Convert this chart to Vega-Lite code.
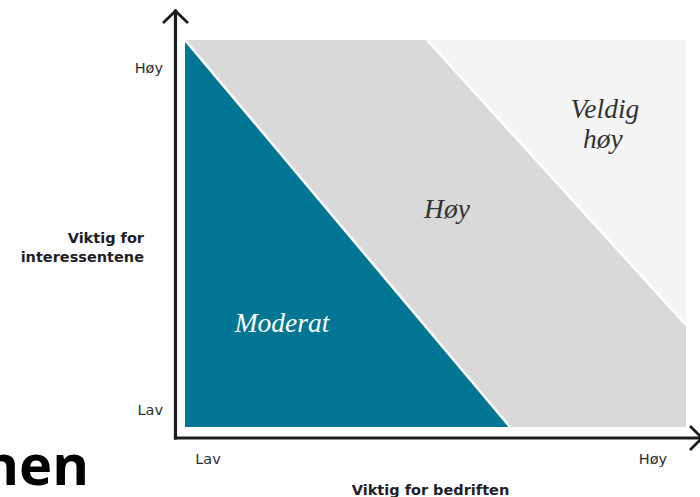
{
  "$schema": "https://vega.github.io/schema/vega-lite/v6.json",
  "autosize": {"type": "none"},
  "padding": {"left": 185, "top": 40, "right": 14, "bottom": 70},
  "width": 501,
  "height": 387,
  "background": "white",
  "config": {"view": {"stroke": null}},
  "encoding": {
    "x": {"field": "x", "type": "quantitative", "scale": {"domain": [0, 100], "nice": false, "zero": false}, "axis": null},
    "y": {"field": "y", "type": "quantitative", "scale": {"domain": [0, 100], "nice": false, "zero": false}, "axis": null}
  },
  "layer": [
    {
      "data": {"values": [{"x": 0, "x2": 100, "y": 0, "y2": 100}]},
      "mark": {"type": "rect", "color": "#d9d9d9"},
      "encoding": {"x2": {"field": "x2"}, "y2": {"field": "y2"}}
    },
    {
      "data": {"values": [{"x": 48.3, "y": 100, "y2": 100}, {"x": 100, "y": 100, "y2": 26.36}]},
      "mark": {"type": "area", "color": "#f4f4f4"},
      "encoding": {"y2": {"field": "y2"}}
    },
    {
      "data": {"values": [{"x": 0, "y": 100, "y2": 0}, {"x": 64.87, "y": 0, "y2": 0}]},
      "mark": {"type": "area", "color": "#007594"},
      "encoding": {"y2": {"field": "y2"}}
    },
    {
      "data": {"values": [{"x": 0, "y": 100, "x2": 64.87, "y2": 0}, {"x": 48.3, "y": 100, "x2": 100, "y2": 26.36}]},
      "mark": {"type": "rule", "color": "white", "strokeWidth": 2.5},
      "encoding": {"x2": {"field": "x2"}, "y2": {"field": "y2"}}
    },
    {
      "data": {"values": [{"x": -1.9, "y": -2.84, "x2": -1.9, "y2": 107.49}, {"x": -1.9, "y": -2.84, "x2": 103.5, "y2": -2.84}]},
      "mark": {"type": "rule", "color": "#1c1c1c", "strokeWidth": 3.2, "strokeCap": "square"},
      "encoding": {"x2": {"field": "x2"}, "y2": {"field": "y2"}}
    },
    {
      "data": {"values": [
        {"arrow": "y", "step": 1, "x": -4.39, "y": 104.39},
        {"arrow": "y", "step": 2, "x": -1.9, "y": 107.49},
        {"arrow": "y", "step": 3, "x": 0.6, "y": 104.39},
        {"arrow": "x", "step": 1, "x": 100.8, "y": 0.26},
        {"arrow": "x", "step": 2, "x": 103.19, "y": -2.84},
        {"arrow": "x", "step": 3, "x": 100.8, "y": -5.94}
      ]},
      "mark": {"type": "line", "color": "#1c1c1c", "strokeWidth": 2.8, "strokeJoin": "miter"},
      "encoding": {"detail": {"field": "arrow"}, "order": {"field": "step"}}
    },
    {
      "data": {"values": [
        {"label": "Høy", "x": -4.39, "y": 91.47},
        {"label": "Lav", "x": -4.39, "y": 3.1}
      ]},
      "mark": {"type": "text", "align": "right", "baseline": "alphabetic", "font": "DejaVu Sans", "fontSize": 14.5, "color": "#2e2e3a"},
      "encoding": {"text": {"field": "label"}}
    },
    {
      "data": {"values": [
        {"label": "Lav", "x": 4.59, "y": -9.5},
        {"label": "Høy", "x": 93.41, "y": -9.5}
      ]},
      "mark": {"type": "text", "align": "center", "baseline": "alphabetic", "font": "DejaVu Sans", "fontSize": 14.5, "color": "#2e2e3a"},
      "encoding": {"text": {"field": "label"}}
    },
    {
      "data": {"values": [
        {"label": "Viktig for", "x": -8.18, "y": 47.55},
        {"label": "interessentene", "x": -8.18, "y": 42.64}
      ]},
      "mark": {"type": "text", "align": "right", "baseline": "alphabetic", "font": "DejaVu Sans", "fontWeight": "bold", "fontSize": 14.5, "color": "#1e1e28"},
      "encoding": {"text": {"field": "label"}}
    },
    {
      "data": {"values": [
        {"label": "Viktig for bedriften", "x": 49.0, "y": -17.57}
      ]},
      "mark": {"type": "text", "align": "center", "baseline": "alphabetic", "font": "DejaVu Sans", "fontWeight": "bold", "fontSize": 14.5, "color": "#1e1e28"},
      "encoding": {"text": {"field": "label"}}
    },
    {
      "data": {"values": [
        {"label": "Moderat", "x": 19.36, "y": 24.55}
      ]},
      "mark": {"type": "text", "align": "center", "baseline": "alphabetic", "font": "Liberation Serif", "fontStyle": "italic", "fontSize": 27.5, "color": "#ffffff"},
      "encoding": {"text": {"field": "label"}}
    },
    {
      "data": {"values": [
        {"label": "Høy", "x": 52.3, "y": 54.01},
        {"label": "Veldig", "x": 83.83, "y": 79.84},
        {"label": "høy", "x": 83.43, "y": 72.09}
      ]},
      "mark": {"type": "text", "align": "center", "baseline": "alphabetic", "font": "Liberation Serif", "fontStyle": "italic", "fontSize": 27.5, "color": "#333333"},
      "encoding": {"text": {"field": "label"}}
    },
    {
      "data": {"values": [
        {"label": "nen", "x": -19.16, "y": -14.99}
      ]},
      "mark": {"type": "text", "align": "right", "baseline": "alphabetic", "font": "Open Sans", "fontWeight": "bold", "fontSize": 56, "color": "#000000"},
      "encoding": {"text": {"field": "label"}}
    }
  ]
}
